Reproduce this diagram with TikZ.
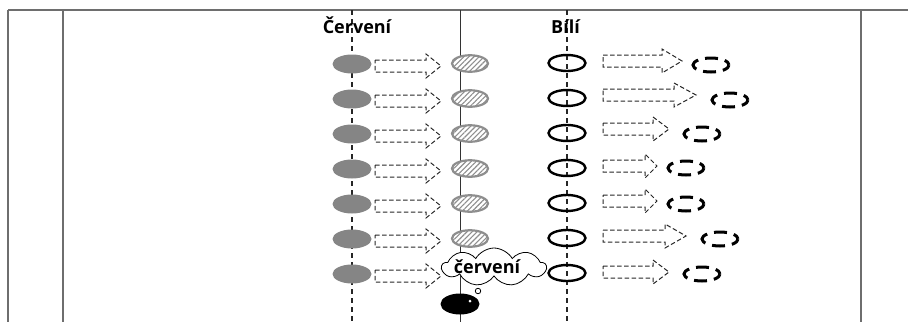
\documentclass[tikz,border=0pt]{standalone}
\usepackage{fontspec}
\newfontfamily\headfont{Open Sans}
\usetikzlibrary{shapes.geometric,shapes.symbols,patterns.meta}
\definecolor{framegray}{HTML}{6E6E6E}
\definecolor{redfill}{HTML}{858585}
\definecolor{hatchgray}{HTML}{8E8E8E}
\tikzset{
  frameline/.style={draw=framegray,line width=2pt},
  lane/.style={draw=black!85,line width=1.3pt,dash pattern=on 5pt off 4pt},
  axisline/.style={draw=black!80,line width=1pt},
  blob/.style={ellipse,inner sep=0pt,minimum width=39pt,minimum height=19pt},
  redblob/.style={blob,fill=redfill},
  huedblob/.style={blob,draw=hatchgray,line width=2.2pt,minimum width=36pt,minimum height=16.5pt,
    preaction={fill=white},pattern={Lines[angle=45,distance=3.6pt,line width=1.1pt]},pattern color=hatchgray},
  whiteblob/.style={blob,draw=black,line width=2.4pt,minimum width=37pt,minimum height=16pt},
  ghostblob/.style={blob,draw=black,line width=3pt,minimum width=36pt,minimum height=14pt,
    dash pattern=on 13pt off 7pt,dash phase=6.5pt},
  moveline/.style={draw=black!85,line width=1pt,dash pattern=on 4.5pt off 2.5pt},
  heading/.style={font=\headfont\bfseries\fontsize{18}{21}\selectfont,inner sep=0pt,anchor=base},
}
% hollow block arrow: tail x, head base x, tip x, centre y
\newcommand\blockarr[4]{%
  \draw[moveline] (#1,#4-6) -- (#2,#4-6) -- (#2,#4-12) -- (#3,#4)
    -- (#2,#4+12) -- (#2,#4+6) -- (#1,#4+6) -- cycle;}
\begin{document}
\begin{tikzpicture}[x=1pt,y=-1pt]
\useasboundingbox (0,0) rectangle (908,322);

% table frame
\draw[frameline] (8,10) -- (908,10);
\draw[frameline] (8,10) -- (8,322);
\draw[frameline] (63,10) -- (63,322);
\draw[frameline] (861,10) -- (861,322);

% lanes and the dividing line
\draw[lane] (352,10) -- (352,322);
\draw[lane] (567,10) -- (567,322);
\draw[axisline] (460,10) -- (460,322);

% column headings
\node[heading] (hred) at (357,33) {Červení};
\node[heading] (hwhite) at (565.5,33) {Bílí};

% red column and its moves
\foreach \k in {1,...,7}{
  \pgfmathsetmacro\yy{64+35*(\k-1)}
  \node[redblob] (red\k) at (352,\yy) {};
  \blockarr{375}{426}{441}{\yy+2}
}
\foreach \k in {1,...,6}{
  \pgfmathsetmacro\yy{64+35*(\k-1)-0.5}
  \node[huedblob] (hued\k) at (470,\yy) {};
}

% white column and its moves
\foreach \k in {1,...,7}{
  \pgfmathsetmacro\yy{64+35*(\k-1)-1}
  \node[whiteblob] (white\k) at (567,\yy) {};
}
\foreach \k/\xb/\xt/\yy in {1/662/682/61,2/674/696/95,3/653/669/129,4/645/657/166,
                            5/645/657/201,6/665/686/236,7/653/669/272}{
  \blockarr{603}{\xb}{\xt}{\yy}
}
\foreach \k/\xx/\yy in {1/711/65,2/730/100,3/702/134,4/686/168,5/686/204,6/720/239,7/702/274}{
  \node[ghostblob] (ghost\k) at (\xx,\yy) {};
}

% thinking black one
\node[cloud,draw=black,line width=0.8pt,fill=white,cloud puffs=9,cloud puff arc=120,aspect=3,
      minimum width=104pt,minimum height=38pt,inner sep=0pt] (thought) at (494,267) {};
\node[heading] (thoughttext) at (487,273) {červení};
\node[ellipse,fill=black,inner sep=0pt,minimum width=39pt,minimum height=21pt] (black) at (460,304) {};
\node[circle,fill=white,inner sep=0pt,minimum size=3pt] (eye) at (470,301) {};
\node[circle,draw=black,line width=0.8pt,fill=white,inner sep=0pt,minimum size=5.5pt] (bubble) at (478,291) {};
\end{tikzpicture}
\end{document}
